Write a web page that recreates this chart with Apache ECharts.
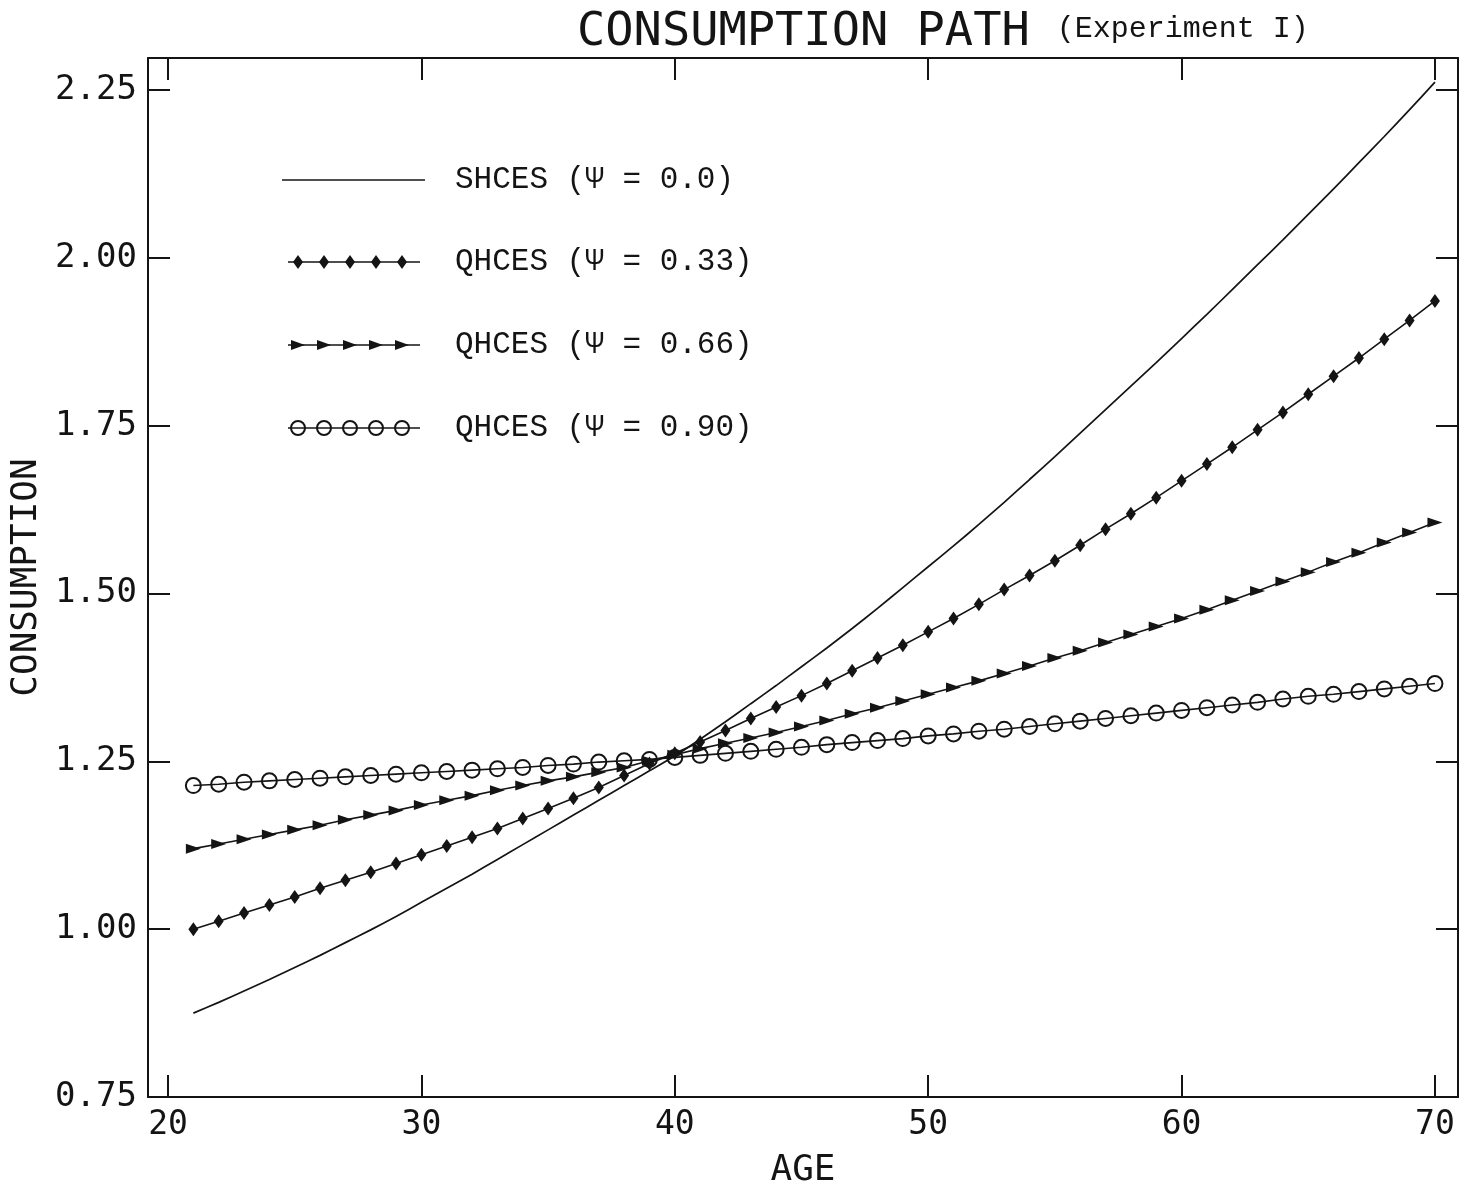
<!DOCTYPE html>
<html>
<head>
<meta charset="utf-8">
<title>Consumption Path (Experiment I)</title>
<script src="https://cdn.jsdelivr.net/npm/echarts@6/dist/echarts.min.js"></script>
<style>
  html, body { margin: 0; padding: 0; background: #ffffff; }
  #chart { width: 1461px; height: 1189px; }
</style>
</head>
<body>
<div id="chart"></div>
<script>
// Age of the household, one observation per year
const ages = [
  21, 22, 23, 24, 25, 26, 27, 28, 29, 30,
  31, 32, 33, 34, 35, 36, 37, 38, 39, 40,
  41, 42, 43, 44, 45, 46, 47, 48, 49, 50,
  51, 52, 53, 54, 55, 56, 57, 58, 59, 60,
  61, 62, 63, 64, 65, 66, 67, 68, 69, 70
];

// SHCES, psi = 0.0
const shces00 = [
  0.875, 0.891, 0.908, 0.925, 0.943, 0.961, 0.980, 0.999, 1.019, 1.040,
  1.061, 1.082, 1.104, 1.126, 1.148, 1.170, 1.192, 1.214, 1.236, 1.258,
  1.283, 1.309, 1.336, 1.363, 1.391, 1.419, 1.448, 1.478, 1.509, 1.540,
  1.571, 1.603, 1.636, 1.670, 1.704, 1.739, 1.774, 1.809, 1.844, 1.880,
  1.916, 1.953, 1.990, 2.027, 2.065, 2.103, 2.142, 2.181, 2.221, 2.262
];

// QHCES, psi = 0.33
const qhces33 = [
  1.000, 1.012, 1.024, 1.036, 1.048, 1.061, 1.073, 1.085, 1.098, 1.111,
  1.124, 1.137, 1.150, 1.165, 1.180, 1.195, 1.211, 1.229, 1.247, 1.262,
  1.279, 1.296, 1.314, 1.331, 1.348, 1.366, 1.385, 1.404, 1.423, 1.443,
  1.463, 1.484, 1.506, 1.527, 1.549, 1.572, 1.596, 1.619, 1.643, 1.668,
  1.693, 1.718, 1.744, 1.770, 1.797, 1.824, 1.851, 1.879, 1.907, 1.936
];

// QHCES, psi = 0.66
const qhces66 = [
  1.120, 1.127, 1.134, 1.141, 1.148, 1.155, 1.163, 1.170, 1.177, 1.185,
  1.192, 1.199, 1.207, 1.214, 1.221, 1.227, 1.234, 1.241, 1.251, 1.260,
  1.269, 1.277, 1.285, 1.293, 1.302, 1.311, 1.321, 1.330, 1.340, 1.350,
  1.360, 1.370, 1.381, 1.392, 1.404, 1.415, 1.427, 1.439, 1.451, 1.463,
  1.476, 1.490, 1.504, 1.518, 1.532, 1.547, 1.561, 1.576, 1.591, 1.606
];

// QHCES, psi = 0.90
const qhces90 = [
  1.214, 1.216, 1.219, 1.221, 1.223, 1.225, 1.227, 1.229, 1.231, 1.233,
  1.235, 1.237, 1.239, 1.241, 1.244, 1.246, 1.249, 1.251, 1.253, 1.256,
  1.259, 1.262, 1.265, 1.268, 1.271, 1.275, 1.278, 1.281, 1.284, 1.288,
  1.291, 1.295, 1.298, 1.302, 1.306, 1.310, 1.314, 1.318, 1.322, 1.326,
  1.330, 1.334, 1.338, 1.343, 1.347, 1.350, 1.354, 1.358, 1.362, 1.366
];

// Axis ticks and their printed labels
const ageTicks = [20, 30, 40, 50, 60, 70];
const ageTickLabels = ['20', '30', '40', '50', '60', '70'];
const consTicks = [0.75, 1.00, 1.25, 1.50, 1.75, 2.00, 2.25];
const consTickLabels = ['0.75', '1.00', '1.25', '1.50', '1.75', '2.00', '2.25'];

// Legend entries
const seriesNames = ['SHCES (\u03A8 = 0.0)', 'QHCES (\u03A8 = 0.33)', 'QHCES (\u03A8 = 0.66)', 'QHCES (\u03A8 = 0.90)'];

const INK = '#141414';
const PLOT_FONT = '"DejaVu Sans Mono", monospace';
const TYPE_FONT = '"Liberation Mono", "Courier New", monospace';

function pairs(values) {
  return ages.map((a, i) => [a, values[i]]);
}

function labelFor(ticks, labels) {
  return function (v) {
    for (let i = 0; i < ticks.length; i++) {
      if (Math.abs(ticks[i] - v) < 1e-6) return labels[i];
    }
    return '';
  };
}

const axisLineStyle = { color: INK, width: 2 };

function xAxisDef(position, showLabels) {
  return {
    type: 'value',
    position: position,
    min: 19.21,
    max: 70.91,
    axisLine: { show: true, onZero: false, lineStyle: axisLineStyle },
    axisTick: { show: true, inside: true, length: 22, customValues: ageTicks, lineStyle: { color: INK, width: 2 } },
    axisLabel: {
      show: showLabels,
      customValues: ageTicks,
      formatter: labelFor(ageTicks, ageTickLabels),
      margin: 12,
      color: INK,
      fontFamily: PLOT_FONT,
      fontSize: 33
    },
    splitLine: { show: false },
    name: showLabels ? 'AGE' : '',
    nameLocation: 'middle',
    nameGap: 56,
    nameTextStyle: { color: INK, fontFamily: PLOT_FONT, fontSize: 36, verticalAlign: 'top' }
  };
}

function yAxisDef(position, showLabels) {
  return {
    type: 'value',
    position: position,
    min: 0.75,
    max: 2.298,
    axisLine: { show: true, onZero: false, lineStyle: axisLineStyle },
    axisTick: { show: true, inside: true, length: 22, customValues: consTicks, lineStyle: { color: INK, width: 2 } },
    axisLabel: {
      show: showLabels,
      customValues: consTicks,
      formatter: labelFor(consTicks, consTickLabels),
      margin: 11,
      color: INK,
      fontFamily: PLOT_FONT,
      fontSize: 34
    },
    splitLine: { show: false },
    name: showLabels ? 'CONSUMPTION' : '',
    nameLocation: 'middle',
    nameGap: 94,
    nameRotate: 90,
    nameTextStyle: { color: INK, fontFamily: PLOT_FONT, fontSize: 36 }
  };
}

// Hand-drawn legend: a short run of the line with five markers, then the label
function legendGraphics() {
  const rowsY = [180, 262, 345, 428];
  const markerXs = [298, 324, 350, 376, 402];
  const els = [];
  rowsY.forEach((y, r) => {
    if (r === 0) {
      els.push({ type: 'line', shape: { x1: 282, y1: y, x2: 425, y2: y }, style: { stroke: INK, lineWidth: 1.6 } });
    } else {
      els.push({ type: 'line', shape: { x1: 288, y1: y, x2: 420, y2: y }, style: { stroke: INK, lineWidth: 1.6 } });
      markerXs.forEach((mx) => {
        if (r === 1) {
          els.push({ type: 'polygon', shape: { points: [[mx, y - 7], [mx + 5, y], [mx, y + 7], [mx - 5, y]] }, style: { fill: INK } });
        } else if (r === 2) {
          els.push({ type: 'polygon', shape: { points: [[mx - 7, y - 5], [mx + 7, y], [mx - 7, y + 5]] }, style: { fill: INK } });
        } else {
          els.push({ type: 'circle', shape: { cx: mx, cy: y, r: 7 }, style: { fill: 'rgba(0,0,0,0)', stroke: INK, lineWidth: 2 } });
        }
      });
    }
    els.push({
      type: 'text',
      x: 455,
      y: y,
      style: { text: seriesNames[r], fill: INK, font: '31px ' + TYPE_FONT, verticalAlign: 'middle', align: 'left' }
    });
  });
  return els;
}

const chart = echarts.init(document.getElementById('chart'), null, { renderer: 'canvas' });

chart.setOption({
  animation: false,
  backgroundColor: '#ffffff',
  title: {
    left: 572,
    top: 4,
    text: '{a|CONSUMPTION PATH} {b|(Experiment I)}',
    textStyle: {
      fontWeight: 'normal',
      rich: {
        a: { fontFamily: PLOT_FONT, fontSize: 47, fontWeight: 'normal', color: INK },
        b: { fontFamily: TYPE_FONT, fontSize: 30, fontWeight: 'normal', color: INK, padding: [0, 0, 6, 22] }
      }
    }
  },
  grid: { left: 148, right: 3, top: 58, bottom: 92, containLabel: false, outerBoundsMode: 'none' },
  xAxis: [xAxisDef('bottom', true), xAxisDef('top', false)],
  yAxis: [yAxisDef('left', true), yAxisDef('right', false)],
  graphic: { elements: legendGraphics() },
  series: [
    {
      name: seriesNames[0],
      type: 'line',
      data: pairs(shces00),
      symbol: 'none',
      smooth: 0.2,
      lineStyle: { color: INK, width: 1.7 },
      silent: true
    },
    {
      name: seriesNames[1],
      type: 'line',
      data: pairs(qhces33),
      symbol: 'diamond',
      symbolSize: [10, 14],
      itemStyle: { color: INK },
      lineStyle: { color: INK, width: 1.6 },
      silent: true
    },
    {
      name: seriesNames[2],
      type: 'line',
      data: pairs(qhces66),
      symbol: 'triangle',
      symbolRotate: -90,
      symbolSize: [10, 15],
      itemStyle: { color: INK },
      lineStyle: { color: INK, width: 1.6 },
      silent: true
    },
    {
      name: seriesNames[3],
      type: 'line',
      data: pairs(qhces90),
      symbol: 'circle',
      symbolSize: 15,
      itemStyle: { color: 'rgba(0,0,0,0)', borderColor: INK, borderWidth: 2 },
      lineStyle: { color: INK, width: 1.6 },
      silent: true
    }
  ]
});
</script>
</body>
</html>
